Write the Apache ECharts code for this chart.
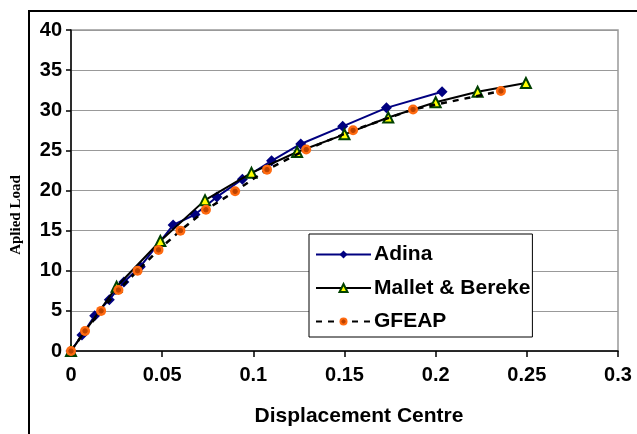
<!DOCTYPE html>
<html>
<head>
<meta charset="utf-8">
<script src="https://cdn.jsdelivr.net/npm/echarts@6/dist/echarts.min.js"></script>
<style>html,body{margin:0;padding:0;background:#fff;}#c{width:637px;height:434px;}</style>
</head>
<body>
<div id="c"></div>
<script>
// Data
const adinaX = [0, 0.006, 0.013, 0.021, 0.029, 0.038, 0.056, 0.068, 0.080, 0.094, 0.110, 0.126, 0.149, 0.173, 0.2035];
const adinaY = [0, 2.0, 4.4, 6.4, 8.6, 10.5, 15.7, 17.0, 19.2, 21.4, 23.7, 25.8, 28.0, 30.3, 32.3];
const malletX = [0, 0.025, 0.049, 0.0735, 0.099, 0.124, 0.150, 0.174, 0.200, 0.223, 0.2495];
const malletY = [0, 8.0, 13.7, 18.8, 22.2, 24.8, 27.0, 29.1, 31.0, 32.3, 33.4];
const gfeapX = [0, 0.0077, 0.0165, 0.026, 0.0365, 0.048, 0.060, 0.074, 0.090, 0.1075, 0.129, 0.1547, 0.1876, 0.2358];
const gfeapY = [0, 2.5, 5.0, 7.6, 10.0, 12.6, 15.0, 17.6, 19.9, 22.6, 25.1, 27.5, 30.1, 32.4];
const seriesNames = ['Adina', 'Mallet & Bereke', 'GFEAP'];
const xTitle = 'Displacement Centre';
const yTitle = 'Aplied Load';

const pairs = (xs, ys) => xs.map((x, i) => [x, ys[i]]);
const FONT = '"Liberation Sans", Arial, sans-serif';

const chart = echarts.init(document.getElementById('c'));
chart.setOption({
  animation: false,
  backgroundColor: '#fff',
  grid: { left: 71, top: 30, right: 19, bottom: 83, show: true, borderColor: '#999', borderWidth: 1.5, backgroundColor: 'transparent' },
  xAxis: {
    type: 'value', min: 0, max: 0.3, interval: 0.05,
    axisLine: { show: true, onZero: false, lineStyle: { color: '#000', width: 1.5 } },
    axisTick: { show: true, length: 6, lineStyle: { color: '#000', width: 1.5 } },
    splitLine: { show: false },
    axisLabel: { color: '#000', fontFamily: FONT, fontWeight: 'bold', fontSize: 20, margin: 14 }
  },
  yAxis: {
    type: 'value', min: 0, max: 40, interval: 5,
    axisLine: { show: true, onZero: false, lineStyle: { color: '#000', width: 1.5 } },
    axisTick: { show: true, length: 5, lineStyle: { color: '#000', width: 1.5 } },
    splitLine: { show: true, lineStyle: { color: '#999', width: 1.2 } },
    axisLabel: { color: '#000', fontFamily: FONT, fontWeight: 'bold', fontSize: 20, margin: 9 }
  },
  legend: {
    orient: 'vertical', left: 309, top: 234,
    backgroundColor: '#fff', borderColor: '#000', borderWidth: 1,
    padding: [10, 2, 5, 6], itemGap: 12.5, itemWidth: 55, itemHeight: 10,
    textStyle: { color: '#000', fontFamily: FONT, fontWeight: 'bold', fontSize: 21, padding: [0, 0, 0, -2] },
    data: seriesNames
  },
  graphic: [
    { type: 'rect', z: -1, shape: { x: 29, y: 11, width: 700, height: 500 }, style: { fill: 'none', stroke: '#000', lineWidth: 2 } },
    { type: 'text', x: 359, y: 416, style: { text: xTitle, fill: '#000', font: 'bold 21px ' + FONT, textAlign: 'center', textVerticalAlign: 'middle' } },
    { type: 'text', x: 16, y: 215, rotation: Math.PI / 2, style: { text: yTitle, fill: '#000', font: 'bold 15px "Liberation Serif", "Times New Roman", serif', textAlign: 'center', textVerticalAlign: 'middle' } }
  ],
  series: [
    {
      name: seriesNames[0], type: 'line', data: pairs(adinaX, adinaY),
      symbol: 'diamond', symbolSize: 11, showAllSymbol: true,
      lineStyle: { color: '#000080', width: 2 },
      itemStyle: { color: '#000080', borderWidth: 0 }, z: 2
    },
    {
      name: seriesNames[1], type: 'line', data: pairs(malletX, malletY),
      symbol: 'triangle', symbolSize: 10, showAllSymbol: true,
      lineStyle: { color: '#000', width: 2 },
      itemStyle: { color: '#ffff00', borderColor: '#004000', borderWidth: 2 }, z: 3
    },
    {
      name: seriesNames[2], type: 'line', data: pairs(gfeapX, gfeapY),
      symbol: 'circle', symbolSize: 10, showAllSymbol: true,
      lineStyle: { color: '#000', width: 2.5, type: [6, 6] },
      itemStyle: {
        color: { type: 'radial', x: 0.5, y: 0.5, r: 0.5, colorStops: [
          { offset: 0, color: '#b84000' }, { offset: 0.45, color: '#c04400' },
          { offset: 0.6, color: '#ff6a10' }, { offset: 1, color: '#ff6a10' } ] },
        borderWidth: 0
      }, z: 4
    }
  ]
});
</script>
</body>
</html>
